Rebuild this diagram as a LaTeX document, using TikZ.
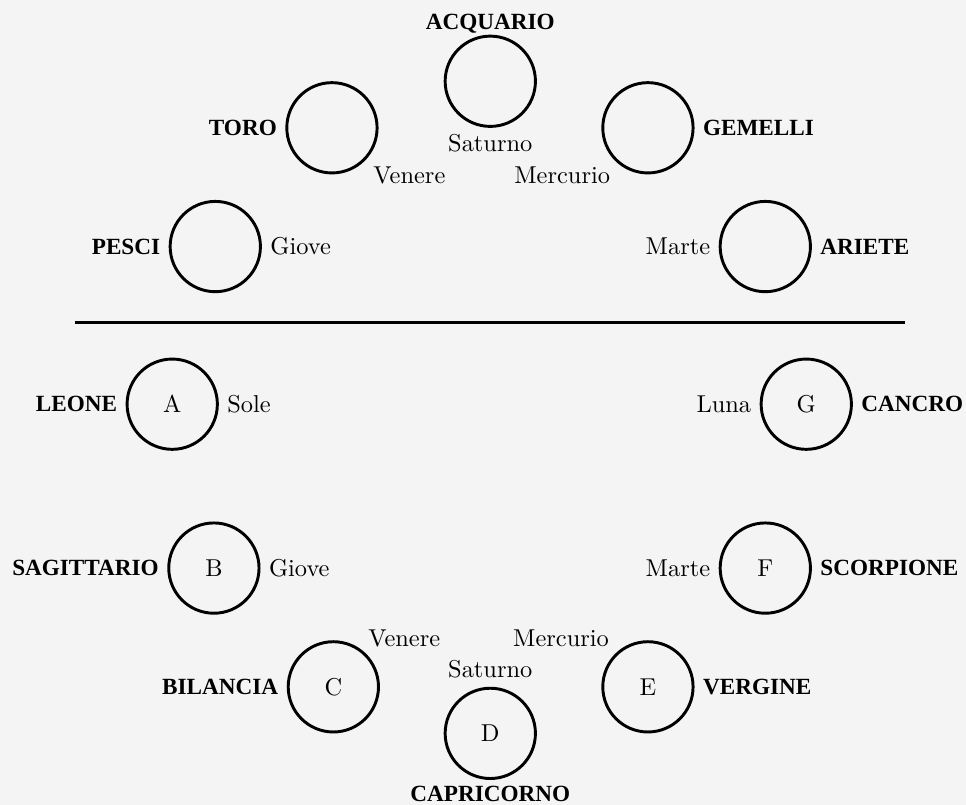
\documentclass[tikz,border=0pt]{standalone}
\usepackage{fontspec}
\usepackage{tikz}
\usetikzlibrary{positioning}

\newfontfamily\segnofont{Liberation Serif}
\definecolor{sfondo}{HTML}{F4F4F4}

\begin{document}
\begin{tikzpicture}
			\tikzstyle{Casa}	= [circle, draw, line width=1.2pt, minimum size=1.3cm, inner sep=0pt]
			\tikzstyle{Segno}	= [inner sep=3.3pt, font=\segnofont\fontsize{9.5}{11}\selectfont\bfseries]
			\tikzstyle{Pianeta}	= [inner sep=3.3pt]
			\tikzstyle{Linea}	= [line width=1.2pt]

			\fill[sfondo] (0, 0) rectangle (13.91, -11.59);
			\useasboundingbox (0, 0) rectangle (13.91, -11.59);

			% sopra la linea
			\node (acquario) at (7.06, -1.17) [Casa] {};
			\node (toro) at (4.78, -1.84) [Casa] {};
			\node (gemelli) at (9.33, -1.84) [Casa] {};
			\node (pesci) at (3.10, -3.55) [Casa] {};
			\node (ariete) at (11.02, -3.55) [Casa] {};

			\node (s-acquario) [Segno, above=-3pt of acquario] {ACQUARIO};
			\node (p-acquario) [Pianeta, below=-0.8pt of acquario] {Saturno};
			\node (s-toro) [Segno, left=0pt of toro] {TORO};
			\node (p-toro) [Pianeta, below right=-1pt and 0pt of toro] {Venere};
			\node (s-gemelli) [Segno, right=0pt of gemelli] {GEMELLI};
			\node (p-gemelli) [Pianeta, below left=-1pt and -1.5pt of gemelli] {Mercurio};
			\node (s-pesci) [Segno, left=0pt of pesci] {PESCI};
			\node (p-pesci) [Pianeta, right=0pt of pesci] {Giove};
			\node (s-ariete) [Segno, right=0pt of ariete] {ARIETE};
			\node (p-ariete) [Pianeta, left=0pt of ariete] {Marte};

			\coordinate (sx) at (1.08, -4.64);
			\coordinate (dx) at (13.03, -4.64);
			\draw [-] (sx) to (dx) [Linea];

			% sotto la linea
			\node (leone) at (2.48, -5.82) [Casa] {A};
			\node (sagittario) at (3.08, -8.18) [Casa] {B};
			\node (bilancia) at (4.80, -9.89) [Casa] {C};
			\node (capricorno) at (7.06, -10.56) [Casa] {D};
			\node (vergine) at (9.33, -9.89) [Casa] {E};
			\node (scorpione) at (11.02, -8.18) [Casa] {F};
			\node (cancro) at (11.61, -5.82) [Casa] {G};

			\node (s-leone) [Segno, left=0pt of leone] {LEONE};
			\node (p-leone) [Pianeta, right=0pt of leone] {Sole};
			\node (s-sagittario) [Segno, left=0pt of sagittario] {SAGITTARIO};
			\node (p-sagittario) [Pianeta, right=0pt of sagittario] {Giove};
			\node (s-bilancia) [Segno, left=0pt of bilancia] {BILANCIA};
			\node (p-bilancia) [Pianeta, above right=-0.6pt and -2.7pt of bilancia] {Venere};
			\node (p-capricorno) [Pianeta, above=0pt of capricorno] {Saturno};
			\node (s-capricorno) [Segno, below=-1pt of capricorno] {CAPRICORNO};
			\node (s-vergine) [Segno, right=0pt of vergine] {VERGINE};
			\node (p-vergine) [Pianeta, above left=-0.6pt and -1pt of vergine] {Mercurio};
			\node (s-scorpione) [Segno, right=0pt of scorpione] {SCORPIONE};
			\node (p-scorpione) [Pianeta, left=0pt of scorpione] {Marte};
			\node (s-cancro) [Segno, right=0pt of cancro] {CANCRO};
			\node (p-cancro) [Pianeta, left=0pt of cancro] {Luna};
		\end{tikzpicture}
\end{document}
